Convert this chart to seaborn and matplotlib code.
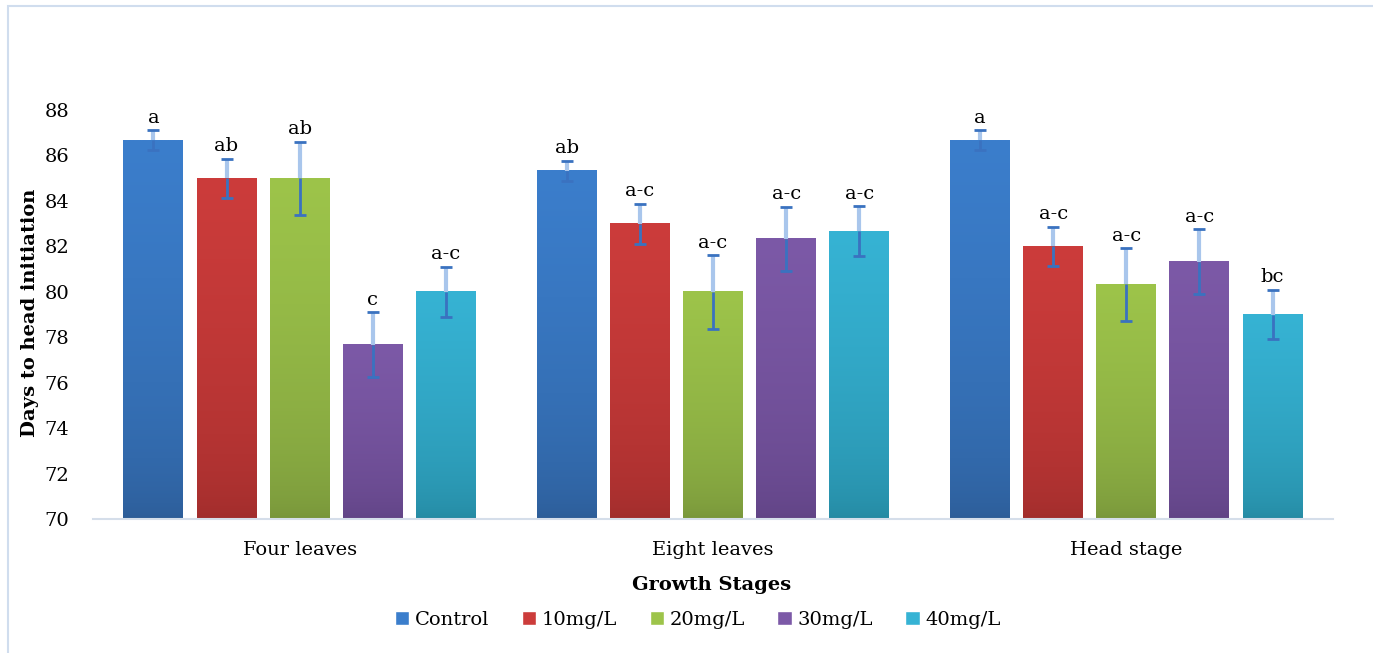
import numpy as np
import pandas as pd
import matplotlib
matplotlib.use("Agg")
import matplotlib.pyplot as plt
from matplotlib.colors import LinearSegmentedColormap
from matplotlib.patches import Patch, Rectangle
import seaborn as sns

stages = ["Four leaves", "Eight leaves", "Head stage"]
treatments = ["Control", "10mg/L", "20mg/L", "30mg/L", "40mg/L"]

# mean days to head initiation per treatment (Four leaves, Eight leaves, Head stage)
control = [86.67, 85.33, 86.67]
mg10 = [85.0, 83.0, 82.0]
mg20 = [85.0, 80.0, 80.33]
mg30 = [77.67, 82.33, 81.33]
mg40 = [80.0, 82.67, 79.0]

# standard errors
se_control = [0.44, 0.44, 0.44]
se_mg10 = [0.86, 0.88, 0.87]
se_mg20 = [1.6, 1.62, 1.6]
se_mg30 = [1.42, 1.42, 1.42]
se_mg40 = [1.1, 1.09, 1.1]

# mean separation letters
let_control = ["a", "ab", "a"]
let_mg10 = ["ab", "a-c", "a-c"]
let_mg20 = ["ab", "a-c", "a-c"]
let_mg30 = ["c", "a-c", "a-c"]
let_mg40 = ["a-c", "a-c", "bc"]

means = [control, mg10, mg20, mg30, mg40]
errors = [se_control, se_mg10, se_mg20, se_mg30, se_mg40]
letters = [let_control, let_mg10, let_mg20, let_mg30, let_mg40]

# (top, bottom) gradient colours, Excel style
top_cols = ["#3B7ECC", "#CC3C3B", "#9DC44A", "#7C59A7", "#36B3D4"]
bot_cols = ["#2C5B95", "#9E2C2B", "#76933A", "#5F4283", "#24879F"]

df = pd.DataFrame({
    "stage": np.repeat([stages], len(treatments), axis=0).ravel(),
    "treatment": np.repeat(treatments, len(stages)),
    "days": np.concatenate(means),
})

sns.set_style("white")
plt.rcParams["font.family"] = ["DejaVu Serif"]
plt.rcParams["text.color"] = "black"
plt.rcParams["xtick.color"] = "black"
plt.rcParams["ytick.color"] = "black"

fig = plt.figure(figsize=(13.73, 6.53), dpi=100)
ax = fig.add_axes([93 / 1373, 1 - 519 / 653, 1240 / 1373, 409 / 653])

sns.barplot(data=df, x="stage", y="days", hue="treatment",
            order=stages, hue_order=treatments, palette=top_cols,
            errorbar=None, width=0.885, gap=0.18, legend=False, ax=ax)

ax.set_ylim(70, 88)
xlim = ax.get_xlim()

for i, cont in enumerate(ax.containers):
    cmap = LinearSegmentedColormap.from_list(f"g{i}", [bot_cols[i], top_cols[i]])
    for j, bar in enumerate(cont):
        x0, w, h = bar.get_x(), bar.get_width(), bar.get_height()
        bar.set_facecolor("none")
        bar.set_edgecolor("none")
        # smooth darkening towards the base
        grad = np.sqrt(np.linspace(0, 1, 256)).reshape(-1, 1)
        ax.imshow(grad, extent=[x0, x0 + w, 70, h], origin="lower", aspect="auto",
                  cmap=cmap, vmin=0, vmax=1, zorder=2, interpolation="bicubic")
        xc = x0 + w / 2
        se = errors[i][j]
        # error bar: lighter part above bar, solid part inside
        ax.vlines(xc, h, h + se, color="#A9C6EC", lw=3, zorder=3)
        ax.vlines(xc, h - se, h, color="#3A72C0", lw=2, zorder=3)
        cw = w * 0.1
        ax.hlines([h - se, h + se], xc - cw, xc + cw, color="#3A72C0", lw=2, zorder=3)
        ax.text(xc, h + se + 0.15, letters[i][j], ha="center", va="bottom",
                fontsize=14, color="black", zorder=4)

ax.set_xlim(xlim)
ax.set_ylim(70, 88)
ax.set_yticks(np.arange(70, 89, 2))
ax.tick_params(axis="y", length=0, pad=17, labelsize=14)
ax.tick_params(axis="x", length=0, pad=16, labelsize=14)
ax.set_xlabel("")
ax.set_ylabel("")
sns.despine(ax=ax, left=True, top=True, right=True)
ax.spines["bottom"].set_color("#D5DEEA")
ax.spines["bottom"].set_linewidth(1.5)

fig.text(30 / 1373, 1 - 313 / 653, "Days to head initiation", rotation=90,
         ha="center", va="center", fontsize=14, fontweight="bold")
fig.text(712 / 1373, 1 - 585 / 653, "Growth Stages", ha="center", va="center",
         fontsize=14, fontweight="bold")

handles = [Patch(facecolor=c) for c in top_cols]
fig.legend(handles, treatments, loc="center", bbox_to_anchor=(698 / 1373, 1 - 620 / 653),
           ncol=5, frameon=False, fontsize=14, handlelength=0.75, handleheight=0.75,
           handletextpad=0.3, columnspacing=1.65)

# outer chart border
fig.patches.append(Rectangle((8 / 1373, -0.01), 1.02, 1 - 6 / 653 + 0.01,
                             transform=fig.transFigure, fill=False,
                             edgecolor="#D0DDEE", lw=1.5))

fig.savefig("out.png", dpi=100)
